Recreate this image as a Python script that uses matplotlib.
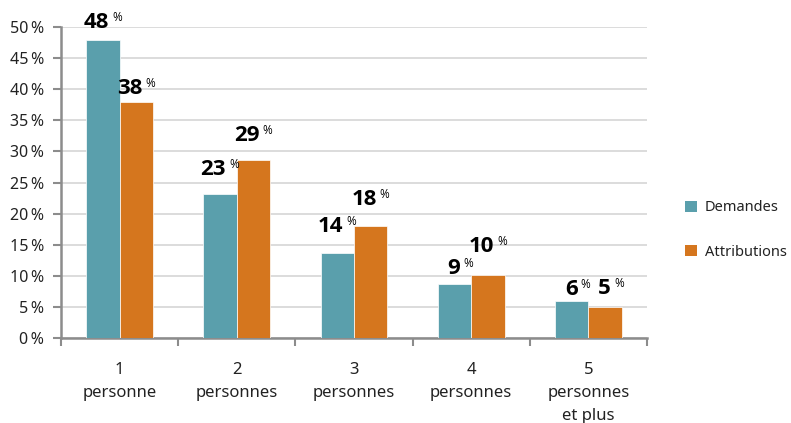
import matplotlib
matplotlib.use("Agg")
import matplotlib.pyplot as plt
import numpy as np
from matplotlib.patches import Patch

plt.rcParams['font.family'] = ['Noto Sans', 'DejaVu Sans']

categories = ["1\npersonne", "2\npersonnes", "3\npersonnes", "4\npersonnes", "5\npersonnes\net plus"]
demandes = [47.9, 23.2, 13.7, 8.7, 5.9]
attributions = [37.9, 28.6, 18.0, 10.1, 5.0]
series_names = ["Demandes", "Attributions"]
yticks = [0, 5, 10, 15, 20, 25, 30, 35, 40, 45, 50]

# vertical gap (pixels) between bar top and the centre of its value label
label_gap_dem = [18, 24, 26, 15, 12]
label_gap_att = [14, 25, 27, 29, 18]

teal = "#5a9fac"
orange = "#d5761e"
axis_grey = "#8c8c8c"
label_font = ['Open Sans', 'DejaVu Sans']

fig = plt.figure(figsize=(7.91, 4.23), dpi=100)
ax = fig.add_axes([61/791, 1 - 338/423, (647 - 61)/791, (338 - 27)/423])

x = np.arange(len(categories))
w = 0.285
b1 = ax.bar(x - w/2, demandes, w, color=teal, edgecolor="white", linewidth=0.5, zorder=3)
b2 = ax.bar(x + w/2, attributions, w, color=orange, edgecolor="white", linewidth=0.5, zorder=3)

ax.set_xlim(-0.5, len(categories) - 0.5)
ax.set_ylim(0, 50)
ax.set_yticks(yticks)
ax.set_yticklabels([f"{t}\u202f%" for t in yticks], fontsize=11.5, color="#222222")
ax.yaxis.grid(True, color="#d9d9d9", linewidth=1.3, zorder=0)
ax.set_axisbelow(True)

ax.set_xticks(x)
ax.set_xticklabels(categories, fontsize=12, color="#222222", linespacing=1.6)
ax.tick_params(axis="x", length=0, pad=17)
ax.set_xticks(np.arange(-0.5, len(categories)), minor=True)
ax.tick_params(axis="x", which="minor", length=6, width=1.5, color=axis_grey, direction="out")
ax.tick_params(axis="y", length=6, width=1.5, color=axis_grey, pad=6)

for s in ["top", "right"]:
    ax.spines[s].set_visible(False)
for s in ["left", "bottom"]:
    ax.spines[s].set_color(axis_grey)
    ax.spines[s].set_linewidth(1.8)

px = 72 / 100  # points per pixel

# value labels: bold rounded number with a small raised percent sign
for bars, vals, gaps in ((b1, demandes, label_gap_dem), (b2, attributions, label_gap_att)):
    for bar, v, g in zip(bars, vals, gaps):
        cx = bar.get_x() + bar.get_width() / 2
        top = bar.get_height()
        ax.annotate(f"{round(v)}", (cx, top), xytext=(6 * px, g * px), textcoords="offset points",
                    ha="right", va="center", fontsize=16, fontweight="bold",
                    family=label_font, color="black", annotation_clip=False)
        ax.annotate("%", (cx, top), xytext=(9 * px, (g + 5) * px), textcoords="offset points",
                    ha="left", va="center", fontsize=8.5,
                    family=label_font, color="black", annotation_clip=False)

handles = [Patch(facecolor=teal), Patch(facecolor=orange)]
fig.legend(handles, series_names, loc="center left", bbox_to_anchor=(685/791, 1 - 230/423),
           frameon=False, fontsize=10.5, handlelength=0.8, handleheight=0.8,
           handletextpad=0.55, labelspacing=2.0, borderpad=0, borderaxespad=0,
           labelcolor="#222222")

fig.savefig("out.png", dpi=100)
